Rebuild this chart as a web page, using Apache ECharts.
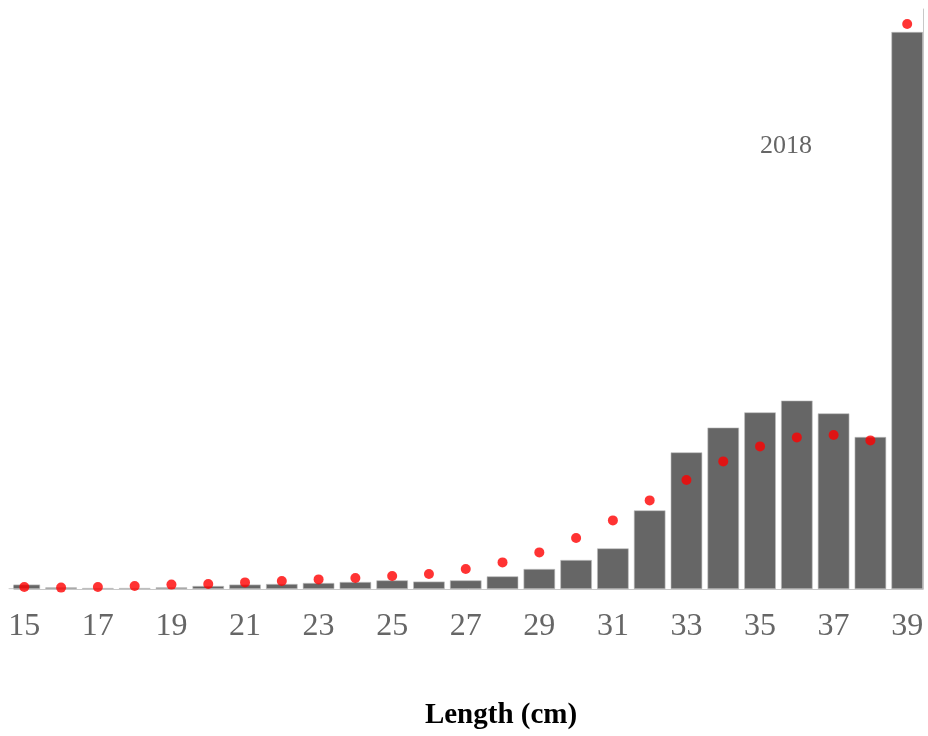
<!DOCTYPE html>
<html>
<head>
<meta charset="utf-8">
<script src="https://cdn.jsdelivr.net/npm/echarts@6/dist/echarts.min.js"></script>
<style>
  html, body { margin: 0; padding: 0; background: #fff; }
  #chart { width: 928px; height: 736px; }
</style>
</head>
<body>
<div id="chart"></div>
<script>
// Length classes (cm)
const lengths = [15, 16, 17, 18, 19, 20, 21, 22, 23, 24, 25, 26, 27, 28, 29, 30, 31, 32, 33, 34, 35, 36, 37, 38, 39];
// Observed share per length class (%), drawn as bars
const observed = [0.22, 0.08, 0.05, 0.05, 0.08, 0.15, 0.22, 0.25, 0.30, 0.35, 0.43, 0.37, 0.43, 0.63, 1.00, 1.45, 2.03, 3.93, 6.83, 8.07, 8.83, 9.42, 8.78, 7.60, 27.85];
// Predicted share per length class (%), drawn as points
const predicted = [0.10, 0.07, 0.10, 0.15, 0.22, 0.25, 0.33, 0.40, 0.48, 0.55, 0.65, 0.75, 1.00, 1.33, 1.83, 2.55, 3.43, 4.43, 5.45, 6.38, 7.13, 7.58, 7.70, 7.43, 28.25];
// Labelled ticks on the length axis
const tickLabels = [15, 17, 19, 21, 23, 25, 27, 29, 31, 33, 35, 37, 39];
const yearLabel = '2018';

const serif = '"Liberation Serif", "DejaVu Serif", serif';

const chart = echarts.init(document.getElementById('chart'), null, { renderer: 'canvas' });

const gridLeft = 14;
const gridBottom = 147;

chart.setOption({
  backgroundColor: '#ffffff',
  animation: false,
  grid: { left: gridLeft, right: 5, top: 9, bottom: gridBottom },
  xAxis: {
    type: 'value',
    min: 14.72,
    max: 39.43,
    axisLine: { show: true, onZero: false, lineStyle: { color: '#c8c8c8', width: 1 } },
    axisTick: { show: false },
    splitLine: { show: false },
    axisLabel: {
      customValues: tickLabels,
      color: '#666666',
      fontFamily: serif,
      fontSize: 32,
      margin: 22
    }
  },
  yAxis: {
    type: 'value',
    min: 0,
    max: 29,
    position: 'right',
    axisLine: { show: true, lineStyle: { color: '#c8c8c8', width: 1 } },
    axisTick: { show: false },
    axisLabel: { show: false },
    splitLine: { show: false }
  },
  series: [
    {
      type: 'bar',
      data: lengths.map((l, i) => [l, observed[i]]),
      barWidth: 31.5,
      clip: true,
      itemStyle: { color: '#666666', borderColor: '#bdbdbd', borderWidth: 0.6 },
      silent: true
    },
    {
      type: 'scatter',
      data: lengths.map((l, i) => [l, predicted[i]]),
      symbol: 'circle',
      symbolSize: 10,
      itemStyle: { color: '#ff0000' },
      silent: true,
      z: 5
    }
  ],
  graphic: [
    // panel edge: keeps the first bar inside the plotting area
    {
      type: 'rect',
      shape: { x: 0, y: 560, width: gridLeft - 0.5, height: 736 - gridBottom - 560 - 0.5 },
      style: { fill: '#ffffff' },
      z: 10
    },
    {
      type: 'text',
      left: 760,
      top: 133,
      style: { text: yearLabel, fill: '#666666', font: '26px ' + serif }
    },
    {
      type: 'text',
      x: 501,
      y: 716,
      style: {
        text: 'Length (cm)',
        fill: '#000000',
        font: 'bold 29px ' + serif,
        textAlign: 'center',
        textVerticalAlign: 'middle'
      }
    }
  ]
});
</script>
</body>
</html>
